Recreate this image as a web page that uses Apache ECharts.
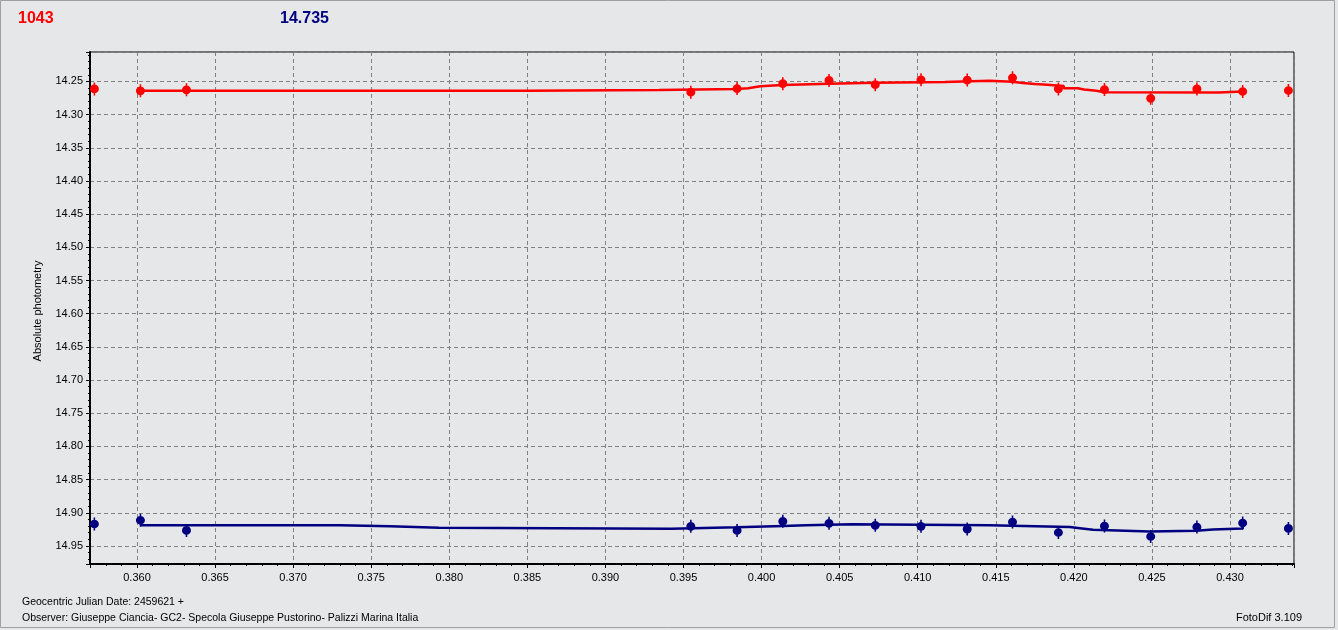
<!DOCTYPE html>
<html>
<head>
<meta charset="utf-8">
<script src="https://cdn.jsdelivr.net/npm/echarts@6/dist/echarts.min.js"></script>
<style>
html,body{margin:0;padding:0;background:#e6e7e9;}
#c{width:1338px;height:630px;}
</style>
</head>
<body>
<div id="c"></div>
<script>
// Observation times (fraction of day after JD 2459621)
var times = [0.35727, 0.36022, 0.36317, 0.39547, 0.39843, 0.40136, 0.40432, 0.40728, 0.41021, 0.41317, 0.41607, 0.41901, 0.42196, 0.42492, 0.42788, 0.43081, 0.43374];
// Magnitudes
var redMag  = [14.2613, 14.2642, 14.2627, 14.2662, 14.2608, 14.2534, 14.2485, 14.2549, 14.2475, 14.2480, 14.2446, 14.2613, 14.2623, 14.2755, 14.2613, 14.2652, 14.2637];
var blueMag = [14.9168, 14.9112, 14.9265, 14.9204, 14.9265, 14.9128, 14.9158, 14.9189, 14.9204, 14.9245, 14.9138, 14.9296, 14.9199, 14.9357, 14.9214, 14.9153, 14.9235];
// Smoothed trend (step) lines
var redTrendX  = [0.36019, 0.3850, 0.39343, 0.39840, 0.39914, 0.39992, 0.40136, 0.40429, 0.40725, 0.41175, 0.41458, 0.41607, 0.41673, 0.41751, 0.41830, 0.41935, 0.42026, 0.42065, 0.42144, 0.42196, 0.42929, 0.43081];
var redTrendY  = [14.2642, 14.2630, 14.2613, 14.2603, 14.2574, 14.2554, 14.2534, 14.2520, 14.2510, 14.2490, 14.2505, 14.2525, 14.2539, 14.2549, 14.2569, 14.2603, 14.2623, 14.2642, 14.2662, 14.2667, 14.2652, 14.2652];
var blueTrendX = [0.36024, 0.37300, 0.37620, 0.37935, 0.39421, 0.39840, 0.40141, 0.40285, 0.40579, 0.41458, 0.41974, 0.42052, 0.42123, 0.42484, 0.42785, 0.42890, 0.43081];
var blueTrendY = [14.9189, 14.9204, 14.9224, 14.9240, 14.9219, 14.9199, 14.9189, 14.9173, 14.9189, 14.9214, 14.9235, 14.9255, 14.9281, 14.9270, 14.9250, 14.9235, 14.9163];
// Axis extents
var xRange = [0.356991, 0.434098];
var yRange = [14.2057, 14.9771];
// Texts
var headRed = '1043';
var headBlue = '14.735';
var yTitle = 'Absolute photometry';
var footer1 = 'Geocentric Julian Date: 2459621 +';
var footer2 = 'Observer: Giuseppe Ciancia- GC2- Specola Giuseppe Pustorino- Palizzi Marina Italia';
var footer3 = 'FotoDif 3.109';

function zip(a, b) { return a.map(function (v, i) { return [v, b[i]]; }); }

var FONT = 'Liberation Sans';
var marker = 'path://M0,2 A4,4 0 1 1 0,10 A4,4 0 1 1 0,2 Z M-0.7,0 L0.7,0 L0.7,12 L-0.7,12 Z';

var chart = echarts.init(document.getElementById('c'), null, {renderer: 'canvas'});
chart.setOption({
  backgroundColor: '#e6e7e9',
  animation: false,
  grid: {
    left: 90, right: 44, top: 52, bottom: 66,
    show: true, borderColor: '#000', borderWidth: 1, backgroundColor: 'transparent',
    containLabel: false, outerBoundsMode: 'none'
  },
  xAxis: {
    type: 'value', min: xRange[0], max: xRange[1], splitNumber: 15, scale: true,
    axisLine: {show: true, onZero: false, lineStyle: {color: '#000', width: 2}},
    axisTick: {show: true, length: 4, lineStyle: {color: '#000'}},
    minorTick: {show: true, splitNumber: 5, length: 2, lineStyle: {color: '#000'}},
    axisLabel: {
      show: true, showMinLabel: false, showMaxLabel: false, margin: 8,
      fontFamily: FONT, fontSize: 11, color: '#000',
      formatter: function (v) { return v.toFixed(3); }
    },
    splitLine: {show: true, lineStyle: {color: '#808080', type: [4, 3], width: 1}}
  },
  yAxis: {
    type: 'value', inverse: true, min: yRange[0], max: yRange[1], splitNumber: 15, scale: true,
    axisLine: {show: true, onZero: false, lineStyle: {color: '#000', width: 2}},
    axisTick: {show: true, length: 4, lineStyle: {color: '#000'}},
    minorTick: {show: true, splitNumber: 5, length: 2, lineStyle: {color: '#000'}},
    axisLabel: {
      show: true, showMinLabel: false, showMaxLabel: false, margin: 7,
      fontFamily: FONT, fontSize: 11, color: '#000',
      formatter: function (v) { return v.toFixed(2); }
    },
    splitLine: {show: true, lineStyle: {color: '#808080', type: [4, 3], width: 1}}
  },
  series: [
    {type: 'line', data: zip(redTrendX, redTrendY), step: 'end', showSymbol: false,
     lineStyle: {color: '#ff0000', width: 2.5}, itemStyle: {color: '#ff0000'}, z: 3},
    {type: 'line', data: zip(blueTrendX, blueTrendY), step: 'end', showSymbol: false,
     lineStyle: {color: '#000080', width: 2.5}, itemStyle: {color: '#000080'}, z: 3},
    {type: 'scatter', data: zip(times, redMag), symbol: marker, symbolSize: [9, 13],
     itemStyle: {color: '#ff0000', opacity: 1}, z: 4},
    {type: 'scatter', data: zip(times, blueMag), symbol: marker, symbolSize: [9, 13],
     itemStyle: {color: '#000080', opacity: 1}, z: 4}
  ],
  graphic: [
    {type: 'rect', shape: {x: 0.5, y: 0.5, width: 1334, height: 627}, silent: true,
     style: {fill: 'none', stroke: '#a0a0a0', lineWidth: 1}, z: 100},
    {type: 'text', x: 18, y: 19, style: {text: headRed, fill: '#ff0000', font: 'bold 16px "Liberation Sans"', textVerticalAlign: 'middle'}},
    {type: 'text', x: 280, y: 19, style: {text: headBlue, fill: '#000080', font: 'bold 16px "Liberation Sans"', textVerticalAlign: 'middle'}},
    {type: 'text', x: 38, y: 311, rotation: Math.PI / 2,
     style: {text: yTitle, fill: '#000', font: '11px "Liberation Sans"', textAlign: 'center', textVerticalAlign: 'middle'}},
    {type: 'text', x: 22, y: 602, style: {text: footer1, fill: '#000', font: '10.5px "Liberation Sans"', textVerticalAlign: 'middle'}},
    {type: 'text', x: 22, y: 618, style: {text: footer2, fill: '#000', font: '10.5px "Liberation Sans"', textVerticalAlign: 'middle'}},
    {type: 'text', x: 1302, y: 618, style: {text: footer3, fill: '#000', font: '11px "Liberation Sans"', textAlign: 'right', textVerticalAlign: 'middle'}}
  ]
});
</script>
</body>
</html>
